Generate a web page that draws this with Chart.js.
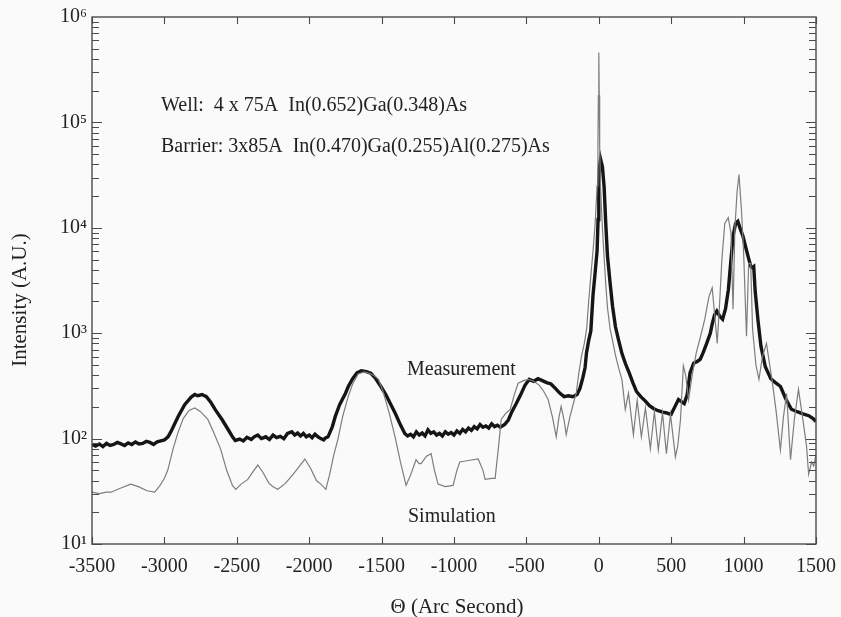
<!DOCTYPE html>
<html>
<head>
<meta charset="utf-8">
<script src="https://cdn.jsdelivr.net/npm/chart.js@4/dist/chart.umd.min.js"></script>
<style>
  html, body { margin: 0; padding: 0; background: #fafafa; }
  #wrap { width: 841px; height: 617px; }
</style>
</head>
<body>
<div id="wrap"><canvas id="c" width="841" height="617"></canvas></div>
<script>
// ---- Data ----
const xTickValues = [-3500, -3000, -2500, -2000, -1500, -1000, -500, 0, 500, 1000, 1500];
const yTickValues = [10, 100, 1000, 10000, 100000, 1000000];

const measX = [-3500,-3475,-3450,-3425,-3400,-3375,-3350,-3325,-3300,-3275,-3250,-3225,-3200,-3175,-3150,-3125,-3100,-3075,-3050,-3025,-3000,-2975,-2950,-2905,-2860,-2815,-2790,-2770,-2740,-2710,-2680,-2650,-2600,-2560,-2530,-2510,-2480,-2455,-2430,-2400,-2380,-2355,-2330,-2300,-2275,-2250,-2225,-2200,-2175,-2150,-2120,-2100,-2080,-2060,-2040,-2020,-2000,-1980,-1960,-1940,-1920,-1900,-1890,-1870,-1840,-1820,-1790,-1750,-1730,-1700,-1670,-1640,-1605,-1575,-1540,-1505,-1470,-1440,-1405,-1370,-1340,-1320,-1300,-1280,-1260,-1240,-1220,-1200,-1180,-1160,-1140,-1120,-1100,-1080,-1060,-1040,-1020,-1000,-980,-960,-940,-920,-900,-880,-860,-840,-820,-800,-780,-760,-740,-720,-700,-680,-650,-625,-600,-570,-540,-510,-480,-450,-420,-390,-360,-330,-300,-270,-240,-210,-180,-150,-130,-110,-95,-85,-70,-55,-40,-25,-12,-5,0,5,12,25,37,48,60,78,95,115,135,160,185,210,235,260,290,320,350,380,410,440,470,485,500,525,550,575,590,610,630,655,680,700,720,745,770,785,800,815,835,855,875,895,915,928,945,960,980,995,1015,1035,1050,1060,1070,1080,1100,1120,1150,1188,1220,1255,1290,1330,1370,1410,1450,1480,1500];
const measY = [88,85,89,84,90,86,88,92,89,86,91,88,93,89,90,94,92,88,93,95,97,104,120,162,210,248,262,255,262,250,222,189,150,122,104,96,99,95,103,98,104,108,100,104,98,108,102,105,100,112,116,108,113,106,112,104,108,102,110,104,100,97,101,104,130,162,210,268,312,370,420,440,432,418,370,312,260,215,173,135,112,106,110,104,116,108,113,106,121,112,116,108,112,106,116,110,114,108,118,112,122,116,126,120,130,124,136,128,132,126,138,130,134,128,136,150,180,215,260,320,365,350,370,355,340,330,300,270,250,255,250,262,300,380,470,650,850,1050,2300,3800,6000,12000,25000,38000,45000,38000,24000,11000,5400,3000,1800,1150,880,640,510,420,340,280,250,228,205,192,184,178,175,172,170,200,235,222,215,260,420,520,540,565,650,800,1000,1250,1500,1620,1450,1360,1700,2600,5400,8500,11000,11500,9500,8400,6500,5100,4300,4200,4300,2500,1300,750,480,370,340,312,240,190,180,172,165,155,145,150,155];

const simX = [-3500,-3450,-3400,-3370,-3300,-3233,-3180,-3120,-3067,-3030,-3000,-2977,-2940,-2908,-2870,-2830,-2790,-2750,-2700,-2660,-2611,-2570,-2530,-2507,-2470,-2424,-2390,-2355,-2320,-2280,-2250,-2217,-2170,-2127,-2080,-2030,-1990,-1950,-1920,-1885,-1860,-1830,-1802,-1770,-1731,-1700,-1662,-1620,-1580,-1550,-1522,-1490,-1450,-1407,-1370,-1331,-1300,-1262,-1240,-1227,-1190,-1158,-1135,-1110,-1060,-1006,-980,-960,-900,-833,-800,-785,-740,-716,-690,-674,-640,-612,-580,-557,-520,-488,-450,-410,-380,-350,-320,-294,-275,-260,-240,-225,-200,-170,-156,-140,-120,-100,-84,-70,-55,-40,-25,-12,-6,-3,0,3,6,12,25,37,48,60,78,95,115,135,160,183,205,239,265,294,322,356,384,411,440,467,495,529,545,564,584,600,620,645,673,700,732,760,783,800,818,835,850,870,894,913,927,940,955,968,985,1001,1020,1035,1049,1062,1085,1106,1130,1158,1180,1196,1225,1254,1275,1297,1324,1350,1379,1410,1435,1449,1470,1484,1500];
const simY = [31,30,31,31,34,37,35,32,31,36,42,50,80,112,155,185,195,180,152,115,79,50,36,33,37,41,48,56,48,38,35,33,37,43,52,64,52,40,37,33,45,70,98,160,250,330,410,430,415,395,365,280,180,104,60,36,45,63,58,58,68,72,50,37,35,36,50,60,62,64,50,41,42,42,90,152,175,189,270,335,355,365,350,320,280,235,160,104,160,202,150,109,160,230,268,400,600,800,1100,2000,3500,6000,11000,25000,60000,180000,460000,180000,60000,24000,10000,5200,2900,1750,1100,850,620,480,360,189,270,109,230,104,195,80,180,78,175,72,170,67,85,150,490,400,235,400,650,900,1360,2200,2700,1500,800,2000,5000,11000,12500,8900,1690,10000,22000,32000,15000,5400,935,4600,4600,1090,500,365,600,800,500,365,180,78,160,268,63,150,293,150,84,46,60,55,70];

const wellText = 'Well:  4 x 75A  In(0.652)Ga(0.348)As';
const barrierText = 'Barrier: 3x85A  In(0.470)Ga(0.255)Al(0.275)As';
const measLabel = 'Measurement';
const simLabel = 'Simulation';
const xTitle = '\u0398 (Arc Second)';
const yTitle = 'Intensity (A.U.)';

// ---- Chart ----
const SERIF = '"Liberation Serif", "Times New Roman", serif';
const TXT = '#222';
const sup = {'0':'\u2070','1':'\u00B9','2':'\u00B2','3':'\u00B3','4':'\u2074','5':'\u2075','6':'\u2076','7':'\u2077','8':'\u2078','9':'\u2079'};

const framePlugin = {
  id: 'framePlugin',
  afterDatasetsDraw(chart) {
    const {ctx, chartArea: a, scales: {x, y}} = chart;
    ctx.save();
    ctx.strokeStyle = '#4a4a4a';
    ctx.lineWidth = 1.4;
    ctx.strokeRect(a.left, a.top, a.right - a.left, a.bottom - a.top);
    ctx.lineWidth = 1.1;
    ctx.beginPath();
    x.ticks.forEach(t => {
      const px = Math.round(x.getPixelForValue(t.value)) + 0.5;
      ctx.moveTo(px, a.bottom); ctx.lineTo(px, a.bottom - 7);
      ctx.moveTo(px, a.top); ctx.lineTo(px, a.top + 7);
    });
    for (let d = 10; d < 1e6; d *= 10) {
      for (let m = 1; m <= 9; m++) {
        const v = d * m;
        const py = Math.round(y.getPixelForValue(v)) + 0.5;
        const len = m === 1 ? 10 : 7;
        ctx.moveTo(a.left, py); ctx.lineTo(a.left + len, py);
        ctx.moveTo(a.right, py); ctx.lineTo(a.right - len, py);
      }
    }
    ctx.stroke();
    ctx.restore();
  },
  afterDraw(chart) {
    const {ctx} = chart;
    ctx.save();
    ctx.fillStyle = TXT;
    ctx.textBaseline = 'alphabetic';
    ctx.textAlign = 'left';
    ctx.font = '20px ' + SERIF;
    ctx.fillText(wellText, 161, 111);
    ctx.fillText(barrierText, 161, 152);
    ctx.fillText(measLabel, 407, 375);
    ctx.fillText(simLabel, 408, 522);
    ctx.font = '21px ' + SERIF;
    ctx.textAlign = 'center';
    ctx.fillText(xTitle, 457, 613);
    ctx.translate(26, 300);
    ctx.rotate(-Math.PI / 2);
    ctx.fillText(yTitle, 0, 0);
    ctx.restore();
  }
};

new Chart(document.getElementById('c'), {
  type: 'line',
  data: {
    datasets: [
      {
        label: 'Simulation',
        data: simX.map((v, i) => ({x: v, y: simY[i]})),
        borderColor: '#7d7d7d',
        borderWidth: 1.2,
        pointRadius: 0,
        tension: 0,
        order: 0
      },
      {
        label: 'Measurement',
        data: measX.map((v, i) => ({x: v, y: measY[i]})),
        borderColor: '#151515',
        borderWidth: 3.4,
        pointRadius: 0,
        tension: 0,
        order: 1
      }
    ]
  },
  options: {
    responsive: false,
    animation: false,
    layout: { padding: { left: 0, top: 17, right: 25, bottom: 0 } },
    plugins: { legend: { display: false }, tooltip: { enabled: false } },
    scales: {
      x: {
        type: 'linear',
        min: -3500, max: 1500,
        afterBuildTicks: s => { s.ticks = xTickValues.map(v => ({value: v})); },
        afterFit: s => { s.height = 73; s.paddingLeft = 0; s.paddingRight = 0; },
        grid: { display: false, drawTicks: false },
        border: { display: false },
        ticks: { padding: 11, color: TXT, font: { family: SERIF, size: 20 }, maxRotation: 0, autoSkip: false,
                 callback: v => String(v) }
      },
      y: {
        type: 'logarithmic',
        min: 10, max: 1000000,
        afterBuildTicks: s => { s.ticks = yTickValues.map(v => ({value: v})); },
        afterFit: s => { s.width = 92; s.paddingTop = 0; s.paddingBottom = 0; },
        grid: { display: false, drawTicks: false },
        border: { display: false },
        ticks: {
          padding: 5, color: TXT, font: { family: SERIF, size: 20 },
          callback: v => { const e = Math.round(Math.log10(v)); return '10' + String(e).split('').map(c => sup[c]).join(''); }
        }
      }
    }
  },
  plugins: [framePlugin]
});
</script>
</body>
</html>
